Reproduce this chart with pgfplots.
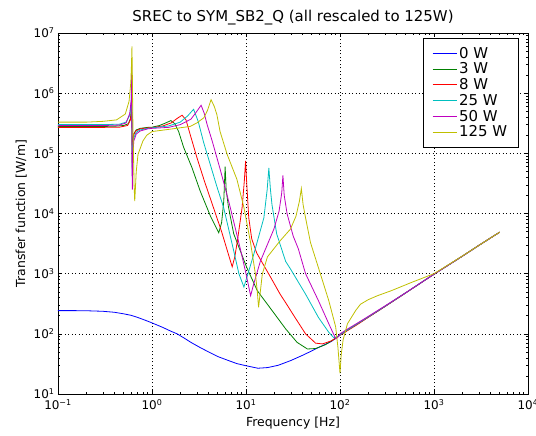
\documentclass[border=0pt]{standalone}
\usepackage{fontspec}
\setmainfont{DejaVu Sans}
\usepackage{pgfplots}
\pgfplotsset{compat=1.18}
\definecolor{mb}{rgb}{0,0,1}
\definecolor{mg}{rgb}{0,0.5,0}
\definecolor{mr}{rgb}{1,0,0}
\definecolor{mc}{rgb}{0,0.75,0.75}
\definecolor{mm}{rgb}{0.75,0,0.75}
\definecolor{my}{rgb}{0.75,0.75,0}
\begin{document}
\begin{tikzpicture}
\begin{axis}[
  scale only axis, width=470bp, height=361bp,
  xmode=log, ymode=log,
  xmin=0.1, xmax=10000, ymin=10, ymax=1e7,
  xtick={0.1,1,10,100,1000,10000},
  xticklabels={10\textsuperscript{−1},10\textsuperscript{0},10\textsuperscript{1},10\textsuperscript{2},10\textsuperscript{3},10\textsuperscript{4}},
  ytick={10,100,1000,10000,100000,1000000,10000000},
  yticklabels={10\textsuperscript{1},10\textsuperscript{2},10\textsuperscript{3},10\textsuperscript{4},10\textsuperscript{5},10\textsuperscript{6},10\textsuperscript{7}},
  minor xtick={0.2,0.3,0.4,0.5,0.6,0.7,0.8,0.9,2,3,4,5,6,7,8,9,20,30,40,50,60,70,80,90,200,300,400,500,600,700,800,900,2000,3000,4000,5000,6000,7000,8000,9000},
  minor ytick={20,30,40,50,60,70,80,90,200,300,400,500,600,700,800,900,2000,3000,4000,5000,6000,7000,8000,9000,2e4,3e4,4e4,5e4,6e4,7e4,8e4,9e4,2e5,3e5,4e5,5e5,6e5,7e5,8e5,9e5,2e6,3e6,4e6,5e6,6e6,7e6,8e6,9e6},
  grid=major,
  major grid style={black, line width=0.6bp, dash pattern=on 1bp off 2.5bp},
  tick style={black, line width=0.5bp},
  major tick length=4bp, minor tick length=2bp,
  axis line style={line width=0.6bp},
  tick label style={font=\fontsize{12}{14}\selectfont},
  xticklabel style={yshift=-2bp},
  title={SREC to SYM\_SB2\_Q (all rescaled to 125W)},
  title style={font=\fontsize{15}{17}\selectfont, yshift=-2bp},
  xlabel={Frequency [Hz]}, ylabel={Transfer function [W/m]},
  label style={font=\fontsize{12.5}{14}\selectfont},
  every axis plot/.append style={line width=0.8bp, mark=none},
  legend image post style={xscale=1.45},
  legend style={at={(rel axis cs:0.979,0.986)}, anchor=north east, draw=black, line width=0.6bp,
    font=\fontsize{15}{17}\selectfont, inner xsep=9bp, inner ysep=7bp,
    nodes={inner sep=1.6bp}},
  legend cell align=left,
]
% 0 W
\addplot[color=mb] coordinates {
(0.1,243) (0.15,243) (0.2,242) (0.3,237) (0.4,228) (0.5,215) (0.6,203) (0.7,188) (0.85,168) (1,152)
(1.3,128) (1.6,110) (1.85,100) (2.2,85) (2.6,72) (3.2,60) (4,50) (5,42) (6.5,36) (8,32) (10,29.5)
(13.4,26.8) (17,27.5) (22,30) (30,36) (40,44) (50,52) (60,60) (70,67) (80,74) (90,84) (100,95)
(120,115) (150,143) (200,190) (300,285) (500,480) (700,680) (1000,980) (2000,1950) (3000,2950) (5000,4900)
};
% 3 W
\addplot[color=mg] coordinates {
(0.1,2.8e5) (0.2,2.8e5) (0.3,2.8e5) (0.4,2.82e5) (0.5,2.9e5) (0.56,3.1e5) (0.59,3.8e5) (0.6,5e5) (0.605,8e5)
(0.608,1.2e6) (0.611,4e5) (0.614,1.5e5) (0.618,1e5) (0.625,1.5e5) (0.64,2.1e5) (0.68,2.45e5) (0.75,2.6e5)
(0.9,2.7e5) (1,2.72e5) (1.2,2.9e5) (1.4,3.2e5) (1.59,3.5e5) (1.75,3.1e5) (1.92,2.3e5) (2.17,1.26e5)
(2.66,5.8e4) (3.26,2.35e4) (4.18,9.1e3) (5.13,4.8e3) (5.5,7e3) (5.8,1.6e4) (6.0,6e4) (6.15,2.5e4)
(6.5,1.3e4) (7.4,4.6e3) (10.2,1.26e3) (13.2,520) (18.9,245) (26.4,121) (35,72) (45,56) (55,57) (70,66)
(85,80) (100,96) (120,115) (150,143) (200,190) (300,285) (500,480) (700,680) (1000,980) (2000,1950) (3000,2950) (5000,4900)
};
% 8 W
\addplot[color=mr] coordinates {
(0.1,2.7e5) (0.3,2.7e5) (0.45,2.72e5) (0.55,2.9e5) (0.59,3.6e5) (0.6,4.5e5) (0.605,7e5) (0.608,1.8e6)
(0.611,3e5) (0.614,8e4) (0.617,5.4e4) (0.622,1.3e5) (0.635,2e5) (0.67,2.35e5) (0.75,2.55e5) (0.9,2.65e5)
(1,2.68e5) (1.3,2.85e5) (1.6,3.2e5) (1.85,3.8e5) (2.09,4.3e5) (2.3,3.6e5) (2.56,2.0e5) (3.02,8.3e4)
(3.6,3.5e4) (4.5,1.26e4) (5.5,5e3) (6.5,2.1e3) (7.13,1.3e3) (7.6,1.9e3) (8.1,3.5e3) (9.1,1.27e4)
(9.6,3.5e4) (9.9,7.5e4) (10.2,3e4) (10.7,8.5e3) (11.5,3.8e3) (13,2.2e3) (18.3,870) (23,460) (26.4,330)
(33,190) (43,100) (55,70) (65,68) (82,77) (100,95) (120,113) (150,140) (200,188) (300,283) (500,478)
(700,678) (1000,980) (2000,1950) (3000,2950) (5000,4900)
};
% 25 W
\addplot[color=mc] coordinates {
(0.1,3.0e5) (0.3,3.0e5) (0.45,3.05e5) (0.53,3.3e5) (0.58,4.3e5) (0.6,6.5e5) (0.605,1.1e6) (0.608,2.2e6)
(0.611,3e5) (0.614,7e4) (0.617,4e4) (0.623,1.1e5) (0.64,1.8e5) (0.68,2.25e5) (0.75,2.45e5) (0.9,2.6e5)
(1,2.65e5) (1.5,2.85e5) (2.0,3.3e5) (2.4,4.2e5) (2.77,5.4e5) (3.1,3.4e5) (3.55,1.5e5) (4.17,6.5e4)
(4.9,2.8e4) (5.78,1.26e4) (7.4,2.4e3) (8.4,1.0e3) (9.5,600) (10.5,1.0e3) (12.1,2.1e3) (15.5,8.5e3)
(16.8,2.5e4) (17.5,5.7e4) (18.2,2.5e4) (18.9,1.4e4) (21.2,4.6e3) (26.4,1.6e3) (29.7,1.2e3) (43,457)
(59,187) (76,106) (86,86) (95,90) (100,97) (120,116) (150,144) (200,191) (300,286) (500,480) (700,680)
(1000,980) (2000,1950) (3000,2950) (5000,4900)
};
% 50 W
\addplot[color=mm] coordinates {
(0.1,2.9e5) (0.3,2.9e5) (0.45,2.95e5) (0.53,3.2e5) (0.58,4.6e5) (0.6,7.5e5) (0.605,1.4e6) (0.608,3e6)
(0.611,3e5) (0.614,5e4) (0.618,2.5e4) (0.625,9e4) (0.64,1.6e5) (0.68,2.1e5) (0.75,2.35e5) (0.9,2.55e5)
(1,2.6e5) (1.5,2.7e5) (2.0,3.0e5) (2.6,3.7e5) (3.0,5.0e5) (3.33,6.3e5) (3.6,4.6e5) (3.86,3.0e5)
(4.37,1.6e5) (5.3,5.5e4) (6.3,2e4) (6.8,1.26e4) (8.8,2.4e3) (10,1.0e3) (11.2,430) (12,650) (14.2,1.6e3)
(19.8,5.5e3) (22.5,1.1e4) (24,2.2e4) (24.7,4.3e4) (25.5,2e4) (27.4,9.8e3) (31.8,4.2e3) (36,2.6e3)
(43,1.0e3) (59,355) (76,147) (90,83) (95,88) (100,100) (120,120) (150,148) (200,195) (300,290) (500,482)
(700,680) (1000,980) (2000,1950) (3000,2950) (5000,4900)
};
% 125 W
\addplot[color=my] coordinates {
(0.1,3.3e5) (0.2,3.3e5) (0.3,3.4e5) (0.42,3.6e5) (0.52,4.5e5) (0.57,7.3e5) (0.595,1.5e6) (0.605,3e6)
(0.612,6e6) (0.618,2e6) (0.625,4e5) (0.635,1e5) (0.645,3e4) (0.655,1.6e4) (0.665,2.5e4) (0.68,5e4)
(0.71,9.6e4) (0.8,1.6e5) (0.88,2.0e5) (1,2.3e5) (1.5,2.5e5) (2.55,2.8e5) (3.0,3.2e5) (3.56,3.9e5)
(3.9,5.2e5) (4.25,7.8e5) (4.6,6e5) (4.9,4.4e5) (5.3,2.3e5) (6.3,9.6e4) (8.0,3.7e4) (8.7,2.2e4)
(9.5,1.26e4) (11.1,3.5e3) (12.6,980) (13.2,500) (13.6,275) (14.2,500) (14.9,980) (16.9,1.9e3)
(23,3.5e3) (29.7,5.5e3) (34,9e3) (37,1.6e4) (38.8,2.6e4) (40.5,1.4e4) (43,8.5e3) (48.5,3.3e3)
(62,980) (76,355) (90,130) (95,60) (100,22) (103,45) (108,80) (120,147) (147,245) (165,310) (200,370)
(250,430) (350,520) (570,710) (1000,1000) (2000,1960) (3000,2950) (5000,4900)
};
\legend{0 W,3 W,8 W,25 W,50 W,125 W}
\end{axis}
\pgfresetboundingbox
\path[use as bounding box] ([xshift=-58bp,yshift=-42bp]current axis.south west) rectangle ([xshift=8bp,yshift=33bp]current axis.north east);
\end{tikzpicture}
\end{document}
